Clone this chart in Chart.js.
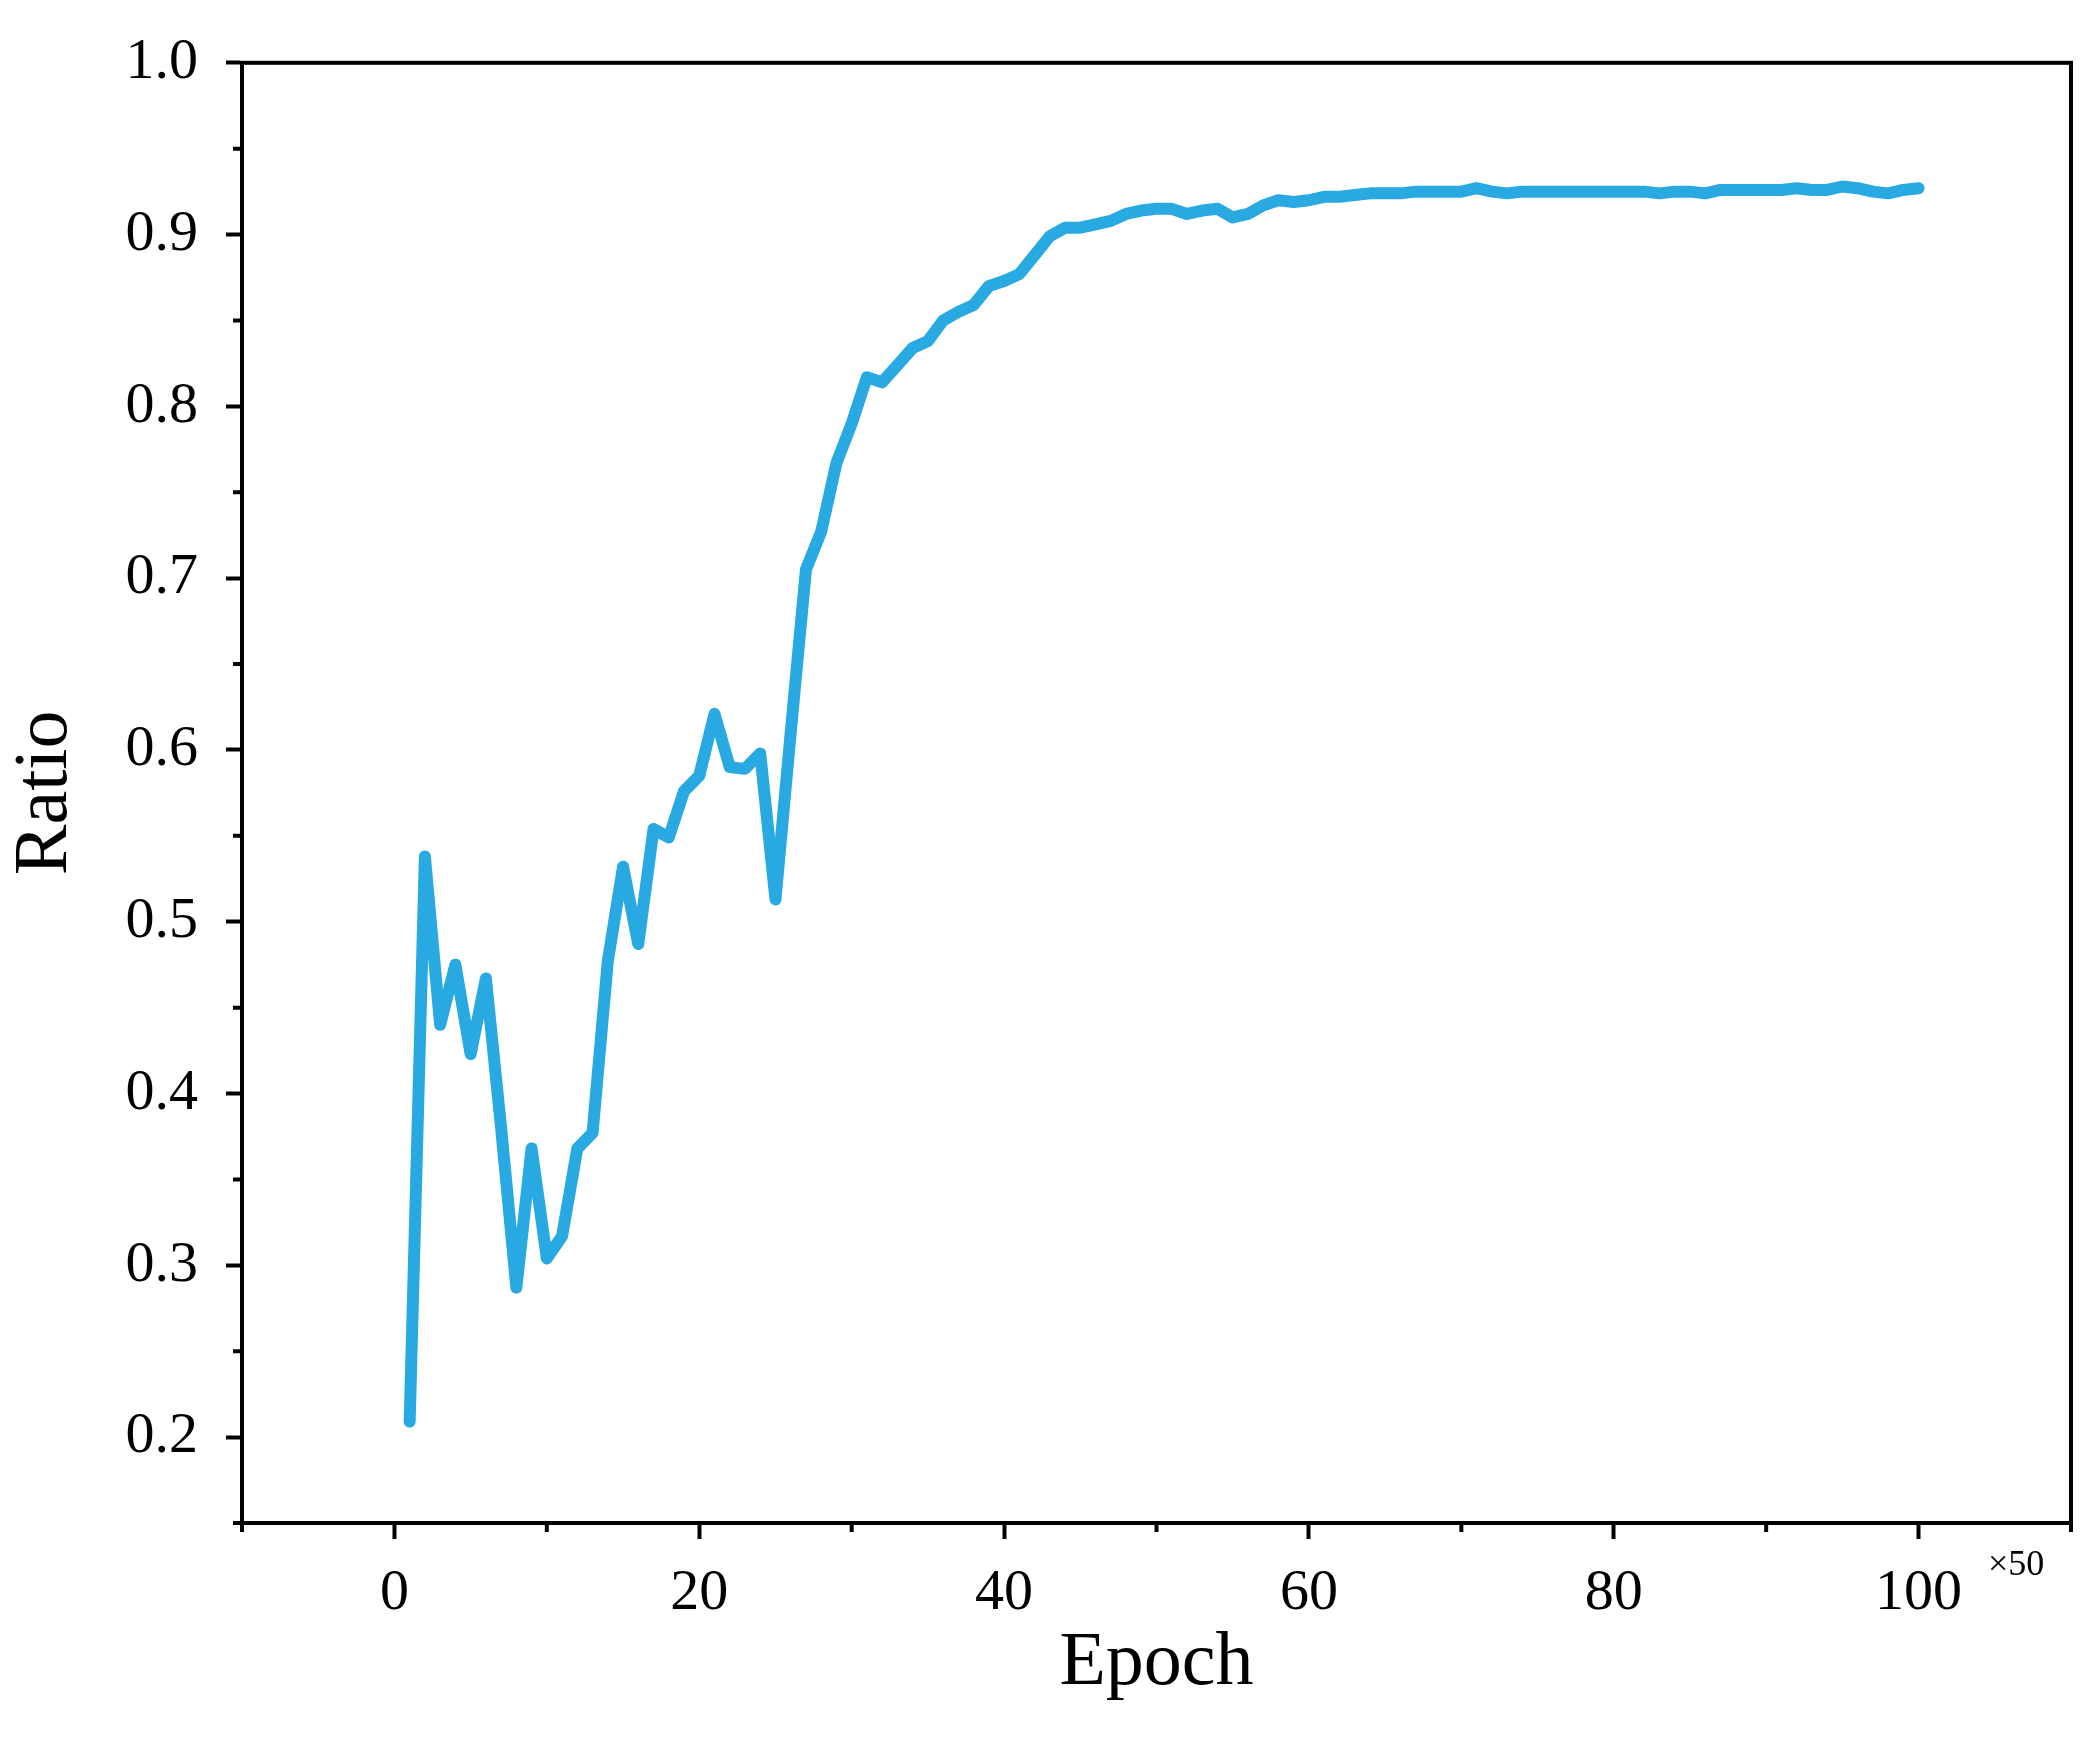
<!DOCTYPE html>
<html>
<head>
<meta charset="utf-8">
<script src="https://cdn.jsdelivr.net/npm/chart.js@4/dist/chart.umd.min.js"></script>
<style>
  html, body { margin: 0; padding: 0; background: #fff; }
  #wrap { width: 2098px; height: 1738px; }
</style>
</head>
<body>
<div id="wrap"><canvas id="chart"></canvas></div>
<script>
// Datos
const epochs = Array.from({ length: 100 }, (_, i) => i + 1);
const ratio = [
  0.209, 0.538, 0.440, 0.475, 0.423, 0.467, 0.380, 0.287, 0.368, 0.304,
  0.317, 0.368, 0.377, 0.477, 0.532, 0.487, 0.554, 0.549, 0.576, 0.585,
  0.621, 0.590, 0.589, 0.598, 0.513, 0.610, 0.705, 0.727, 0.767, 0.790,
  0.817, 0.814, 0.824, 0.834, 0.838, 0.850, 0.855, 0.859, 0.870, 0.873,
  0.877, 0.888, 0.899, 0.904, 0.904, 0.906, 0.908, 0.912, 0.914, 0.915,
  0.915, 0.912, 0.914, 0.915, 0.910, 0.912, 0.917, 0.920, 0.919, 0.920,
  0.922, 0.922, 0.923, 0.924, 0.924, 0.924, 0.925, 0.925, 0.925, 0.925,
  0.927, 0.925, 0.924, 0.925, 0.925, 0.925, 0.925, 0.925, 0.925, 0.925,
  0.925, 0.925, 0.924, 0.925, 0.925, 0.924, 0.926, 0.926, 0.926, 0.926,
  0.926, 0.927, 0.926, 0.926, 0.928, 0.927, 0.925, 0.924, 0.926, 0.927
];
const yMajorTicks = [0.2, 0.3, 0.4, 0.5, 0.6, 0.7, 0.8, 0.9, 1.0];
const yMinorTicks = [0.15, 0.25, 0.35, 0.45, 0.55, 0.65, 0.75, 0.85, 0.95];
const xMajorTicks = [0, 20, 40, 60, 80, 100];
const xMinorTicks = [-10, 10, 30, 50, 70, 90, 110];

const FONT = "'Liberation Serif', 'DejaVu Serif', serif";

// Marco superior/derecho, ticks menores y el factor "×50"
const framePlugin = {
  id: "frame",
  afterDraw(chart) {
    const { ctx, chartArea: a, scales } = chart;
    ctx.save();
    ctx.strokeStyle = "#000";
    ctx.lineWidth = 4;
    ctx.strokeRect(a.left, a.top, a.right - a.left, a.bottom - a.top);
    ctx.lineWidth = 4;
    ctx.beginPath();
    yMinorTicks.forEach((v) => {
      const y = scales.y.getPixelForValue(v);
      ctx.moveTo(a.left, y);
      ctx.lineTo(a.left - 9, y);
    });
    xMinorTicks.forEach((v) => {
      const x = scales.x.getPixelForValue(v);
      ctx.moveTo(x, a.bottom);
      ctx.lineTo(x, a.bottom + 9);
    });
    ctx.stroke();
    ctx.fillStyle = "#000";
    ctx.font = "36px " + FONT;
    ctx.textAlign = "left";
    ctx.textBaseline = "middle";
    ctx.fillText("×50", 1988, 1566);
    ctx.restore();
  },
};

new Chart(document.getElementById("chart"), {
  type: "line",
  data: {
    labels: epochs,
    datasets: [
      {
        data: epochs.map((x, i) => ({ x: x, y: ratio[i] })),
        borderColor: "#29a9e1",
        borderWidth: 12,
        pointRadius: 0,
        tension: 0,
        borderJoinStyle: "round",
        borderCapStyle: "round",
      },
    ],
  },
  options: {
    responsive: true,
    maintainAspectRatio: false,
    animation: false,
    layout: { padding: { top: 52, right: 27, left: 0, bottom: 0 } },
    plugins: { legend: { display: false }, tooltip: { enabled: false } },
    scales: {
      x: {
        type: "linear",
        min: -10,
        max: 110,
        afterBuildTicks: (s) => { s.ticks = xMajorTicks.map((v) => ({ value: v })); },
        afterFit: (s) => { s.height = 215; },
        border: { color: "#000", width: 4 },
        grid: { drawOnChartArea: false, drawTicks: true, tickLength: 16, tickWidth: 4, tickColor: "#000" },
        ticks: { color: "#000", font: { family: FONT, size: 58 }, padding: 20, maxRotation: 0 },
        title: { display: true, text: "Epoch", color: "#000", font: { family: FONT, size: 76 }, padding: { top: 0, bottom: 28 } },
      },
      y: {
        min: 0.15,
        max: 1.0,
        afterBuildTicks: (s) => { s.ticks = yMajorTicks.map((v) => ({ value: v })); },
        afterFit: (s) => { s.width = 242; },
        border: { color: "#000", width: 4 },
        grid: { drawOnChartArea: false, drawTicks: true, tickLength: 16, tickWidth: 4, tickColor: "#000" },
        ticks: { color: "#000", font: { family: FONT, size: 58 }, padding: 28, callback: (v) => v.toFixed(1) },
        title: { display: true, text: "Ratio", color: "#000", font: { family: FONT, size: 76 }, padding: { top: 0, bottom: 36 } },
      },
    },
  },
  plugins: [framePlugin],
});
</script>
</body>
</html>
